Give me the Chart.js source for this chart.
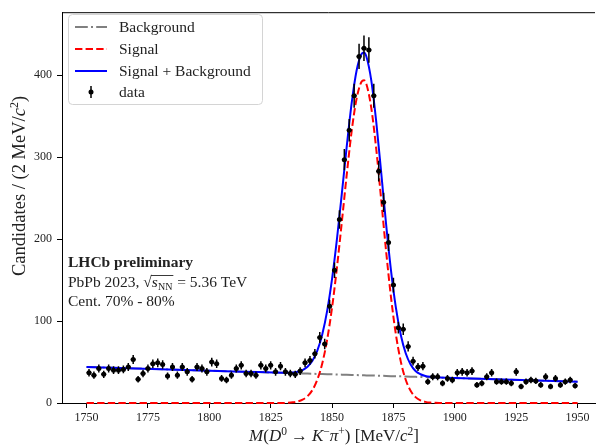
<!DOCTYPE html>
<html>
<head>
<meta charset="utf-8">
<script src="https://cdn.jsdelivr.net/npm/chart.js@4"></script>
<style>html,body{margin:0;padding:0;background:#fff;overflow:hidden}</style>
</head>
<body>
<canvas id="c" width="599" height="447"></canvas>
<script>
// ─── DATA ───
var binCenters = [
  1751,1753,1755,1757,1759,1761,1763,1765,1767,1769,
  1771,1773,1775,1777,1779,1781,1783,1785,1787,1789,
  1791,1793,1795,1797,1799,1801,1803,1805,1807,1809,
  1811,1813,1815,1817,1819,1821,1823,1825,1827,1829,
  1831,1833,1835,1837,1839,1841,1843,1845,1847,1849,
  1851,1853,1855,1857,1859,1861,1863,1865,1867,1869,
  1871,1873,1875,1877,1879,1881,1883,1885,1887,1889,
  1891,1893,1895,1897,1899,1901,1903,1905,1907,1909,
  1911,1913,1915,1917,1919,1921,1923,1925,1927,1929,
  1931,1933,1935,1937,1939,1941,1943,1945,1947,1949
];
var counts = [
  37,34,42,35,42,40,40,41,44,53,
  29,36,42,48,49,47,33,44,34,44,
  38,29,44,42,38,50,48,30,28,34,
  42,46,36,36,34,46,42,46,38,45,
  38,36,35,39,49,52,60,80,72,118,
  162,224,297,333,375,423,433,431,375,283,
  245,196,144,92,90,69,51,44,45,26,
  32,32,24,30,28,37,38,37,39,22,
  24,32,37,26,26,26,24,38,20,26,
  28,27,22,32,20,30,22,26,28,21
];

// fit curves, sampled along the mass axis
var fitX = [1750,1770,1790,1810,1820,1826,
  1830,1832,1834,1836,1838,1840,1842,1844,1846,1848,1850,1852,1854,1856,1858,1860,1862,
  1863,
  1864,1866,1868,1870,1872,1874,1876,1878,1880,1882,1884,1886,1888,1890,1892,1894,
  1900,1920,1940,1950];
var fitBkg = [44.0,42.2,40.4,38.6,37.7,37.2,
  36.8,36.6,36.4,36.3,36.1,35.9,35.7,35.5,35.4,35.2,35.0,34.8,34.6,34.5,34.3,34.1,33.9,
  33.8,
  33.7,33.6,33.4,33.2,33.0,32.8,32.7,32.5,32.3,32.1,31.9,31.8,31.6,31.4,31.2,31.0,
  30.5,28.7,26.9,26.0];
var fitSig = [0,0,0,0,0,0,
  0.1,0.3,0.8,1.9,4.1,8.3,15.8,28.5,48.3,77.3,116.6,165.6,221.5,279.3,332.1,371.7,392.1,
  394.0,
  389.0,359.7,309.8,248.5,185.7,129.2,83.7,50.5,28.4,14.9,7.2,3.3,1.4,0.5,0.2,0.1,
  0,0,0,0];
var fitTot = [44.0,42.2,40.4,38.6,37.7,37.2,
  36.9,36.9,37.2,38.2,40.2,44.2,51.5,64.0,83.7,112.5,151.6,200.4,256.1,313.8,366.4,405.8,426.0,
  427.8,
  422.7,393.3,343.2,281.7,218.7,162.0,116.4,83.0,60.7,47.0,39.1,35.1,33.0,31.9,31.4,31.1,
  30.5,28.7,26.9,26.0];

var xTicks = [1750,1775,1800,1825,1850,1875,1900,1925,1950];
var yTicks = [0,100,200,300,400];

var legendLabels = ['Background', 'Signal', 'Signal + Background', 'data'];
var infoLines = ['LHCb preliminary', 'PbPb 2023, ', 'Cent. 70% - 80%'];

// ─── STYLE ───
var SERIF = "'Liberation Serif', 'Times New Roman', serif";
var TXT = '#222';
var DASH_BKG = [12.8, 3.2, 2, 3.2];
var DASH_SIG = [7.4, 3.2];
var ERR_SCALE = 0.75;   // error bars look ~0.75 sqrt(N) in the picture

function pts(xs, ys) {
  return xs.map(function(x, i) { return { x: x, y: ys[i] }; });
}

function drawRich(ctx, parts, x, y) {
  parts.forEach(function(p) {
    ctx.font = p.f;
    ctx.fillText(p.t, x, y + (p.dy || 0));
    x += ctx.measureText(p.t).width + (p.sp || 0);
  });
  return x;
}
function richWidth(ctx, parts) {
  var w = 0;
  parts.forEach(function(p) { ctx.font = p.f; w += ctx.measureText(p.t).width + (p.sp || 0); });
  return w;
}

// error bars under the data markers
var errorBars = {
  id: 'errorBars',
  beforeDatasetDraw: function(chart, args) {
    if (args.index !== 0) return;
    var ctx = chart.ctx, xs = chart.scales.x, ys = chart.scales.y;
    ctx.save();
    ctx.strokeStyle = '#000';
    ctx.lineWidth = 1.5;
    ctx.beginPath();
    binCenters.forEach(function(m, i) {
      var e = Math.sqrt(counts[i]) * ERR_SCALE;
      var px = xs.getPixelForValue(m);
      ctx.moveTo(px, ys.getPixelForValue(counts[i] - e));
      ctx.lineTo(px, ys.getPixelForValue(counts[i] + e));
      var py = ys.getPixelForValue(counts[i]);
      ctx.moveTo(xs.getPixelForValue(m - 1), py);
      ctx.lineTo(xs.getPixelForValue(m + 1), py);
    });
    ctx.stroke();
    ctx.restore();
  }
};

// top spine, legend box, labels and text block
var decorations = {
  id: 'decorations',
  afterDraw: function(chart) {
    var ctx = chart.ctx, a = chart.chartArea;
    ctx.save();
    ctx.strokeStyle = '#000';
    ctx.lineWidth = 1;
    ctx.beginPath();
    ctx.moveTo(a.left, a.top + 0.5);
    ctx.lineTo(a.right, a.top + 0.5);
    ctx.stroke();

    // legend
    ctx.fillStyle = 'rgba(255,255,255,0.85)';
    ctx.strokeStyle = '#d4d4d4';
    ctx.beginPath();
    ctx.roundRect(68.5, 14.5, 194, 90, 4);
    ctx.fill();
    ctx.stroke();
    var rows = [27, 49, 71, 92];
    var styles = [
      { c: '#808080', d: DASH_BKG },
      { c: '#ff0000', d: DASH_SIG },
      { c: '#0000ff', d: [] }
    ];
    ctx.lineWidth = 2;
    styles.forEach(function(s, i) {
      ctx.strokeStyle = s.c;
      ctx.setLineDash(s.d);
      ctx.beginPath();
      ctx.moveTo(75, rows[i]);
      ctx.lineTo(107, rows[i]);
      ctx.stroke();
    });
    ctx.setLineDash([]);
    ctx.strokeStyle = '#000';
    ctx.lineWidth = 1.5;
    ctx.beginPath();
    ctx.moveTo(91, rows[3] - 6);
    ctx.lineTo(91, rows[3] + 6);
    ctx.stroke();
    ctx.fillStyle = '#000';
    ctx.beginPath();
    ctx.arc(91, rows[3], 2.5, 0, Math.PI * 2);
    ctx.fill();
    ctx.fillStyle = TXT;
    ctx.font = '15.5px ' + SERIF;
    ctx.textBaseline = 'alphabetic';
    legendLabels.forEach(function(t, i) { ctx.fillText(t, 119, rows[i] + 5); });

    // text block
    ctx.font = 'bold 15.5px ' + SERIF;
    ctx.fillText(infoLines[0], 68, 267);
    var x = drawRich(ctx, [{ t: infoLines[1], f: '15.5px ' + SERIF }], 68, 287);
    ctx.font = '15.5px ' + SERIF;
    ctx.fillText('\u221A', x, 287);
    x += ctx.measureText('\u221A').width;
    var x0 = x;
    x = drawRich(ctx, [
      { t: 's', f: 'italic 15.5px ' + SERIF },
      { t: 'NN', f: '10px ' + SERIF, dy: 3 }
    ], x, 287);
    ctx.strokeStyle = TXT;
    ctx.lineWidth = 0.9;
    ctx.beginPath();
    ctx.moveTo(x0 - 1, 275.5);
    ctx.lineTo(x + 1, 275.5);
    ctx.stroke();
    drawRich(ctx, [{ t: ' = 5.36 TeV', f: '15.5px ' + SERIF }], x + 1, 287);
    ctx.font = '15.5px ' + SERIF;
    ctx.fillText(infoLines[2], 68, 306);

    // x title
    var F = 17, rm = F + 'px ' + SERIF, it = 'italic ' + F + 'px ' + SERIF, sup = '11.5px ' + SERIF;
    var xt = [
      { t: 'M', f: it }, { t: '(', f: rm }, { t: 'D', f: it }, { t: '0', f: sup, dy: -6, sp: 4 },
      { t: '\u2192', f: rm, sp: 4 }, { t: 'K', f: it }, { t: '\u2212', f: sup, dy: -6 },
      { t: '\u03C0', f: it }, { t: '+', f: sup, dy: -6 }, { t: ')', f: rm },
      { t: ' [MeV/', f: rm }, { t: 'c', f: it }, { t: '2', f: sup, dy: -6 }, { t: ']', f: rm }
    ];
    var w = richWidth(ctx, xt);
    drawRich(ctx, xt, (a.left + 606) / 2 - w / 2, 441);

    // y title
    var yt = [
      { t: 'Candidates / (2 MeV/', f: '18.5px ' + SERIF }, { t: 'c', f: 'italic 18.5px ' + SERIF },
      { t: '2', f: '12px ' + SERIF, dy: -7 }, { t: ')', f: '18.5px ' + SERIF }
    ];
    var wy = richWidth(ctx, yt);
    ctx.translate(25, 186);
    ctx.rotate(-Math.PI / 2);
    drawRich(ctx, yt, -wy / 2, 0);
    ctx.restore();
  }
};

var tickFont = { family: SERIF, size: 12 };
function plainTick(v) { return String(v); }

new Chart(document.getElementById('c').getContext('2d'), {
  type: 'scatter',
  data: {
    datasets: [
      { label: 'data', data: pts(binCenters, counts), pointRadius: 2.5, pointBackgroundColor: '#000',
        pointBorderWidth: 0, order: 0 },
      { type: 'line', label: 'Signal + Background', data: pts(fitX, fitTot), borderColor: '#0000ff',
        borderWidth: 2, pointRadius: 0, cubicInterpolationMode: 'monotone', fill: false, order: 1 },
      { type: 'line', label: 'Signal', data: pts(fitX, fitSig), borderColor: '#ff0000', borderDash: DASH_SIG,
        borderWidth: 2, pointRadius: 0, cubicInterpolationMode: 'monotone', fill: false, clip: false, order: 2 },
      { type: 'line', label: 'Background', data: pts(fitX, fitBkg), borderColor: '#808080', borderDash: DASH_BKG,
        borderWidth: 2, pointRadius: 0, fill: false, order: 3 }
    ]
  },
  options: {
    responsive: false,
    animation: false,
    devicePixelRatio: 1,
    layout: { padding: { top: 7, right: 0, left: 0, bottom: 0 } },
    plugins: { legend: { display: false }, tooltip: { enabled: false } },
    scales: {
      x: {
        type: 'linear', min: 1740, max: 1957.1,
        afterBuildTicks: function(s) { s.ticks = xTicks.map(function(v) { return { value: v }; }); },
        afterFit: function(s) { s.height = 44; },
        grid: { drawOnChartArea: false, drawTicks: true, tickLength: 5, tickColor: '#000' },
        border: { color: '#000', width: 1 },
        ticks: { font: tickFont, color: TXT, padding: 3, maxRotation: 0, callback: plainTick }
      },
      y: {
        min: 0, max: 477,
        afterBuildTicks: function(s) { s.ticks = yTicks.map(function(v) { return { value: v }; }); },
        afterFit: function(s) { s.width = 62; },
        grid: { drawOnChartArea: false, drawTicks: true, tickLength: 5, tickColor: '#000' },
        border: { color: '#000', width: 1 },
        ticks: { font: tickFont, color: TXT, padding: 5, callback: plainTick }
      }
    }
  },
  plugins: [errorBars, decorations]
});
</script>
</body>
</html>
